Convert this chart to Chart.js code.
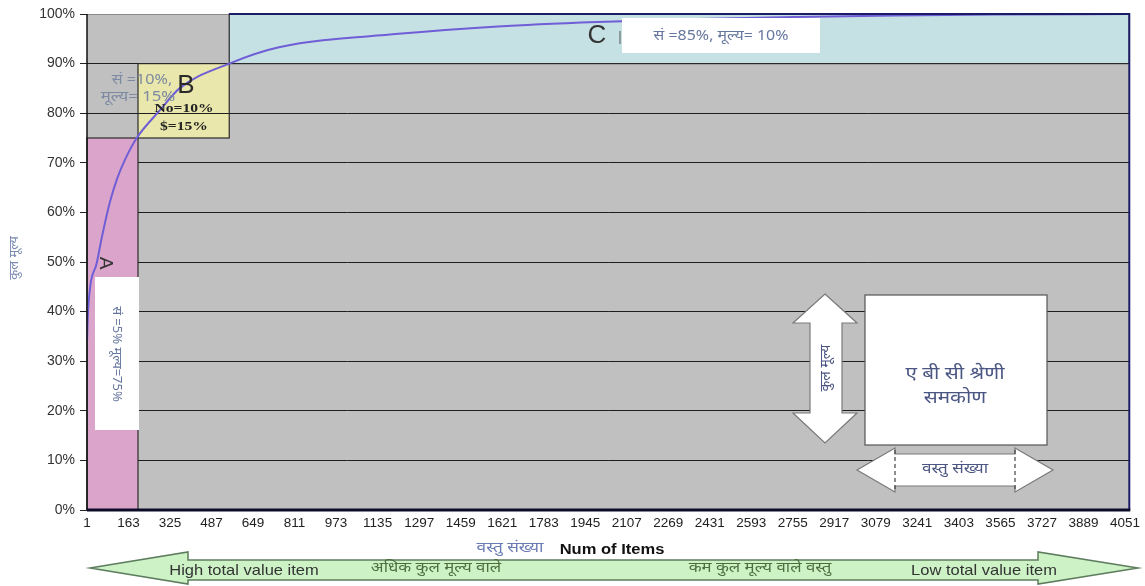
<!DOCTYPE html>
<html>
<head>
<meta charset="utf-8">
<script src="https://cdn.jsdelivr.net/npm/chart.js@4.4.1/dist/chart.umd.min.js"></script>
<style>
  html, body { margin: 0; padding: 0; background: #fff; }
</style>
</head>
<body>
<canvas id="abcChart" width="1145" height="586"></canvas>
<script>
// cumulative value curve
const itemNo = [1, 5, 40, 59, 90, 120, 148, 195, 284, 362, 556, 750, 1216, 1604, 1992, 2380, 2768, 3156, 3544, 4068];
const cumValue = [34, 40, 50, 55, 62, 67, 70.5, 75, 80.5, 85, 90, 93.3, 96, 97.5, 98.4, 99, 99.4, 99.7, 99.9, 100];

const xTickLabels = [1, 163, 325, 487, 649, 811, 973, 1135, 1297, 1459, 1621, 1783, 1945, 2107,
  2269, 2431, 2593, 2755, 2917, 3079, 3241, 3403, 3565, 3727, 3889, 4051];
const yTickLabels = [0, 10, 20, 30, 40, 50, 60, 70, 80, 90, 100];

// A / B / C zones: item range and value range
const zoneNames = ["A", "B", "C"];
const zoneItems = [[1, 200], [200, 556], [556, 4068]];
const zoneValues = [[0, 75], [75, 90], [90, 100]];
const zoneColors = ["#dba5cb", "#e9e7ab", "#c6e1e4"];

const HI = "'Noto Sans', 'DejaVu Sans', sans-serif";
const AR = "'Liberation Sans', Arial, sans-serif";

function zoneRect(chart, i) {
  const x = chart.scales.x, y = chart.scales.y;
  const x0 = x.getPixelForValue(zoneItems[i][0]);
  const x1 = x.getPixelForValue(zoneItems[i][1]);
  const y0 = y.getPixelForValue(zoneValues[i][1]);
  const y1 = y.getPixelForValue(zoneValues[i][0]);
  return [x0, y0, x1 - x0, y1 - y0];
}

function poly(ctx, pts, fill, stroke, lw) {
  ctx.beginPath();
  ctx.moveTo(pts[0][0], pts[0][1]);
  for (let p of pts.slice(1)) ctx.lineTo(p[0], p[1]);
  ctx.closePath();
  ctx.fillStyle = fill;
  ctx.fill();
  ctx.lineWidth = lw;
  ctx.strokeStyle = stroke;
  ctx.stroke();
}

// text centred at x,y; sx stretches it sideways (the source image is a bit wide)
function txt(ctx, s, x, y, font, color, rot, sx) {
  ctx.save();
  ctx.translate(x, y);
  if (rot) ctx.rotate(rot);
  if (sx) ctx.scale(sx, 1);
  ctx.font = font;
  ctx.fillStyle = color;
  ctx.textAlign = "center";
  ctx.textBaseline = "middle";
  ctx.fillText(s, 0, 0);
  ctx.restore();
}

const abcPlugin = {
  id: "abc",
  beforeDraw(chart) {
    const ctx = chart.ctx, a = chart.chartArea;
    ctx.save();
    ctx.fillStyle = "#c0c0c0";
    ctx.fillRect(a.left, a.top, a.right - a.left, a.bottom - a.top);
    // B and C under the grid lines
    for (let i of [1, 2]) {
      ctx.fillStyle = zoneColors[i];
      ctx.fillRect(...zoneRect(chart, i));
    }
    ctx.restore();
  },
  beforeDatasetsDraw(chart) {
    const ctx = chart.ctx;
    ctx.save();
    ctx.fillStyle = zoneColors[0];
    ctx.fillRect(...zoneRect(chart, 0));
    ctx.strokeStyle = "#2a2a2a";
    ctx.lineWidth = 1.2;
    for (let i = 0; i < 3; i++) ctx.strokeRect(...zoneRect(chart, i));
    // white label box over A
    ctx.fillStyle = "#fff";
    ctx.fillRect(95, 277, 44, 153);
    ctx.restore();
  },
  afterDatasetsDraw(chart) {
    const ctx = chart.ctx, a = chart.chartArea;
    const c = zoneRect(chart, 2);
    ctx.save();
    ctx.strokeStyle = "#1c1c66";
    ctx.lineWidth = 2;
    ctx.beginPath();
    ctx.moveTo(c[0], a.top); ctx.lineTo(a.right, a.top); ctx.lineTo(a.right, a.bottom);
    ctx.stroke();
    ctx.strokeStyle = "#111";
    ctx.lineWidth = 1.5;
    ctx.beginPath();
    ctx.moveTo(a.left, a.top); ctx.lineTo(a.left, a.bottom);
    ctx.stroke();
    ctx.strokeStyle = "#0c0c28";
    ctx.lineWidth = 3;
    ctx.beginPath();
    ctx.moveTo(a.left, a.bottom); ctx.lineTo(a.right + 1, a.bottom);
    ctx.stroke();
    ctx.restore();
  },
  afterDraw(chart) {
    const ctx = chart.ctx;
    ctx.save();
    const hiCol = "#66779f";

    // A label
    txt(ctx, "A", 105, 263, "19px " + AR, "#333", Math.PI / 2);
    txt(ctx, "सं =5% मूल्य=75%", 117, 354, "13px " + HI, hiCol, Math.PI / 2);

    // B label
    txt(ctx, "सं =10%,", 142, 80, "14px " + HI, "#7d8aa2", 0, 1.15);
    txt(ctx, "मूल्य= 15%", 138, 97, "14px " + HI, "#7d8aa2", 0, 1.2);
    txt(ctx, "B", 186, 86, "26px " + AR, "#2a2a2a");
    txt(ctx, "No=10%", 184, 109, "bold 13px 'Liberation Serif', serif", "#222", 0, 1.2);
    txt(ctx, "$=15%", 184, 127, "bold 13px 'Liberation Serif', serif", "#222", 0, 1.2);

    // C label
    txt(ctx, "C", 597, 36, "26px " + AR, "#333");
    ctx.fillStyle = "#fff";
    ctx.fillRect(622, 18, 198, 35);
    ctx.strokeStyle = "#555";
    ctx.lineWidth = 1;
    ctx.beginPath(); ctx.moveTo(620, 31); ctx.lineTo(620, 44); ctx.stroke();
    txt(ctx, "सं =85%, मूल्य= 10%", 721, 36, "14px " + HI, hiCol, 0, 1.14);

    // rectangle legend on the right
    ctx.fillStyle = "#fff";
    ctx.fillRect(865, 295, 182, 150);
    ctx.strokeStyle = "#555";
    ctx.lineWidth = 1.2;
    ctx.strokeRect(865, 295, 182, 150);
    txt(ctx, "ए बी सी श्रेणी", 955, 374, "18px " + HI, "#4b5682", 0, 1.15);
    txt(ctx, "समकोण", 955, 398, "18px " + HI, "#4b5682", 0, 1.15);

    poly(ctx, [[825, 294], [857, 323], [842, 323], [842, 413], [857, 413], [825, 443],
      [793, 413], [810, 413], [810, 323], [793, 323]], "#fff", "#7a7a7a", 1.2);
    txt(ctx, "कुल मूल्य", 826, 368, "14px " + HI, "#4b5682", -Math.PI / 2);

    poly(ctx, [[857, 470], [895, 448], [895, 454], [1015, 454], [1015, 448], [1053, 470],
      [1015, 492], [1015, 486], [895, 486], [895, 492]], "#fff", "#7a7a7a", 1.2);
    ctx.setLineDash([4, 3]);
    ctx.strokeStyle = "#444";
    ctx.beginPath();
    ctx.moveTo(895, 450); ctx.lineTo(895, 490);
    ctx.moveTo(1015, 450); ctx.lineTo(1015, 490);
    ctx.stroke();
    ctx.setLineDash([]);
    txt(ctx, "वस्तु संख्या", 955, 469, "14px " + HI, "#4b5682", 0, 1.22);

    // axis titles
    txt(ctx, "कुल मूल्य", 14, 258, "13px " + HI, "#7a8ab2", -Math.PI / 2);
    txt(ctx, "वस्तु संख्या", 510, 548, "15px " + HI, "#6a7ab2", 0, 1.15);
    txt(ctx, "Num of Items", 612, 550, "bold 14px " + AR, "#111", 0, 1.18);

    // big double arrow under the axis
    poly(ctx, [[90, 568], [188, 552], [188, 560], [1038, 560], [1038, 552], [1138, 568],
      [1038, 584], [1038, 580], [188, 580], [188, 584]], "#ccf2c6", "#5e7c5e", 1.5);
    txt(ctx, "High total value item", 244, 571, "15px " + AR, "#333", 0, 1.1);
    txt(ctx, "अधिक कुल मूल्य वाले", 436, 568, "15px " + HI, "#4f6e3e", 0, 1.12);
    txt(ctx, "कम कुल मूल्य वाले वस्तु", 760, 568, "15px " + HI, "#4f6e3e", 0, 1.12);
    txt(ctx, "Low total value item", 984, 571, "15px " + AR, "#333", 0, 1.1);
    ctx.restore();
  }
};

new Chart("abcChart", {
  type: "line",
  data: {
    datasets: [{
      data: itemNo.map((x, i) => ({ x: x, y: cumValue[i] })),
      borderColor: "#6f5ed6",
      borderWidth: 2,
      pointRadius: 0,
      cubicInterpolationMode: "monotone",
      fill: false
    }]
  },
  options: {
    responsive: false,
    animation: false,
    layout: { padding: { top: 14, right: 10, left: 0, bottom: 0 } },
    plugins: { legend: { display: false }, tooltip: { enabled: false } },
    scales: {
      x: {
        type: "linear",
        min: 1,
        max: 4068,
        afterBuildTicks: s => { s.ticks = xTickLabels.map(v => ({ value: v })); },
        afterFit: s => { s.height = 76; },
        grid: { display: false, drawTicks: false },
        border: { display: false },
        ticks: {
          autoSkip: false, maxRotation: 0, minRotation: 0, padding: 5,
          color: "#222", font: { family: AR, size: 13.5 },
          callback: v => String(v)
        }
      },
      y: {
        min: 0,
        max: 100,
        afterBuildTicks: s => { s.ticks = yTickLabels.map(v => ({ value: v })); },
        afterFit: s => { s.width = 87; },
        grid: {
          color: c => (c.tick && c.tick.value === 100 ? "#8a8a8a" : "#1e1e1e"),
          lineWidth: 1, tickLength: 7, tickColor: "#222"
        },
        border: { display: false },
        ticks: {
          padding: 5, color: "#333", font: { family: AR, size: 14 },
          callback: v => v + "%"
        }
      }
    }
  },
  plugins: [abcPlugin]
});
</script>
</body>
</html>
